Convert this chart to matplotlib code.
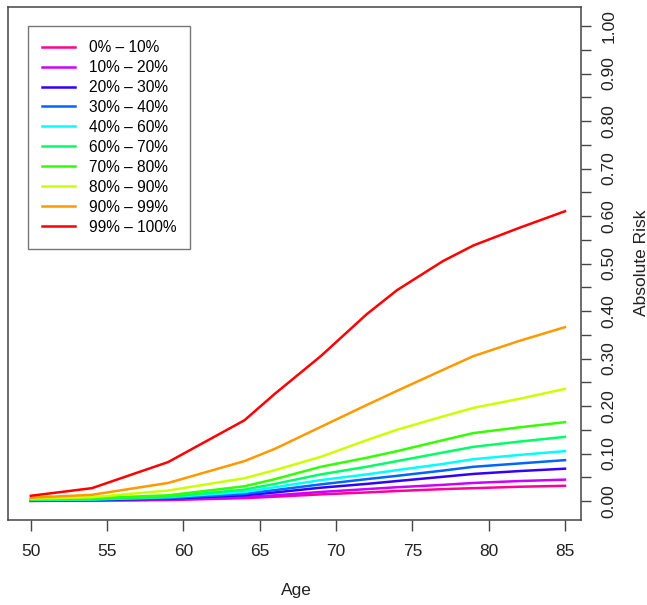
import matplotlib
matplotlib.use("Agg")
import matplotlib.pyplot as plt
from matplotlib.ticker import MultipleLocator, FormatStrFormatter

plt.rcParams['font.family'] = ['Liberation Sans', 'DejaVu Sans']

ages = [50, 54, 59, 64, 66, 69, 72, 74, 77, 79, 82, 85]

# absolute risk by percentile group of the risk score
risk_groups = [
    ("0% \u2013 10%",   [0.000, 0.001, 0.002, 0.006, 0.009, 0.014, 0.018, 0.021, 0.025, 0.027, 0.030, 0.032]),
    ("10% \u2013 20%",  [0.001, 0.001, 0.003, 0.008, 0.012, 0.019, 0.025, 0.029, 0.034, 0.038, 0.042, 0.045]),
    ("20% \u2013 30%",  [0.001, 0.002, 0.005, 0.012, 0.018, 0.028, 0.036, 0.042, 0.051, 0.057, 0.063, 0.068]),
    ("30% \u2013 40%",  [0.002, 0.003, 0.006, 0.015, 0.023, 0.035, 0.046, 0.053, 0.064, 0.072, 0.079, 0.086]),
    ("40% \u2013 60%",  [0.002, 0.003, 0.008, 0.019, 0.029, 0.044, 0.056, 0.065, 0.078, 0.088, 0.097, 0.105]),
    ("60% \u2013 70%",  [0.003, 0.004, 0.009, 0.024, 0.036, 0.056, 0.072, 0.084, 0.102, 0.114, 0.125, 0.135]),
    ("70% \u2013 80%",  [0.004, 0.006, 0.012, 0.031, 0.046, 0.072, 0.091, 0.105, 0.128, 0.143, 0.155, 0.166]),
    ("80% \u2013 90%",  [0.005, 0.008, 0.022, 0.048, 0.065, 0.093, 0.128, 0.150, 0.178, 0.196, 0.215, 0.236]),
    ("90% \u2013 99%",  [0.007, 0.013, 0.038, 0.084, 0.110, 0.156, 0.202, 0.232, 0.276, 0.305, 0.337, 0.366]),
    ("99% \u2013 100%", [0.011, 0.027, 0.082, 0.170, 0.226, 0.305, 0.393, 0.444, 0.505, 0.538, 0.575, 0.610]),
]

# rev(rainbow(10)) from R
colors = ["#FF0099", "#CC00FF", "#3300FF", "#0066FF", "#00FFFF",
          "#00FF66", "#33FF00", "#CCFF00", "#FF9900", "#FF0000"]

fig = plt.figure(figsize=(6.47, 6.05), dpi=100)
ax = fig.add_axes([7.5 / 647, 85 / 605, (581 - 7.5) / 647, (520 - 7) / 605])

for (label, vals), c in zip(risk_groups, colors):
    ax.plot(ages, vals, color=c, lw=1.8, label=label, solid_joinstyle='round')

ax.set_xlim(48.47, 86.05)
ax.set_ylim(-0.04, 1.04)

frame_col = '#444444'
for s in ax.spines.values():
    s.set_color(frame_col)
    s.set_linewidth(1.1)

ax.xaxis.set_major_locator(MultipleLocator(5))
ax.tick_params(axis='x', direction='out', length=8, width=1.0, color=frame_col,
               labelsize=12.5, pad=9, labelcolor='#222222')

ax.yaxis.tick_right()
ax.yaxis.set_major_locator(MultipleLocator(0.1))
ax.yaxis.set_minor_locator(MultipleLocator(0.05))
ax.yaxis.set_major_formatter(FormatStrFormatter('%.2f'))
ax.tick_params(axis='y', which='both', direction='out', length=7.5, width=1.0,
               color=frame_col)
ax.tick_params(axis='y', which='major', labelsize=12.5, pad=7,
               labelrotation=90, labelcolor='#222222')
for t in ax.get_yticklabels():
    t.set_va('center')

fig.text(296 / 647, 1 - 591 / 605, "Age", ha='center', va='center',
         fontsize=12.5, color='#222222')
fig.text(641 / 647, 1 - 263 / 605, "Absolute Risk", ha='center', va='center',
         rotation=90, fontsize=12.5, color='#222222')

leg = ax.legend(loc='upper left', bbox_to_anchor=(28 / 647, 1 - 26 / 605),
                bbox_transform=fig.transFigure, fontsize=11.2, frameon=True,
                fancybox=False, edgecolor='#555555', handlelength=2.1,
                handletextpad=0.9, labelspacing=0.32, borderpad=0.9,
                borderaxespad=0)
leg.get_frame().set_linewidth(1.0)
for line in leg.get_lines():
    line.set_linewidth(1.8)

fig.savefig("out.png", dpi=100)
